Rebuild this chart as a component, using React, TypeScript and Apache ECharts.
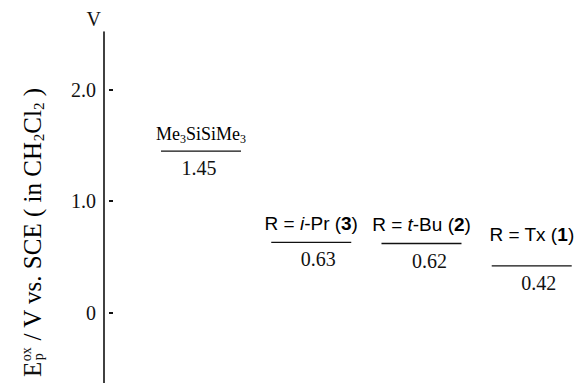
import React, { useEffect, useRef } from "react";
import * as echarts from "echarts";

// ---- data ----
const compoundLabels = [
  "{m|Me}{s|3}{m|SiSiMe}{s|3}",
  "{r|R = }{ri|i}{r|-Pr (}{rb|3}{r|)}",
  "{r|R = }{ri|t}{r|-Bu (}{rb|2}{r|)}",
  "{r|R = Tx (}{rb|1}{r|)}",
];
const potentials = [1.45, 0.63, 0.62, 0.42];
const yTickValues = [0, 1, 2];
const yTickLabels = ["0", "1.0", "2.0"];
const axisUnit = "V";

// ---- layout constants ----
const labelLift = [6, 8, 8, 20];
const valueDx = [-2, 7, 8, 7];
const halfLine = 40;

const SERIF = "'Liberation Serif', 'Times New Roman', serif";
const SANS = "'Liberation Sans', Arial, sans-serif";

function measure(text: string, font: string): number {
  const c = document.createElement("canvas");
  const ctx = c.getContext("2d")!;
  ctx.font = font;
  return ctx.measureText(text).width;
}

export default function App() {
  const ref = useRef<HTMLDivElement>(null);
  useEffect(() => {
    if (!ref.current) return;
    const chart = echarts.init(ref.current, undefined, { renderer: "svg" });

    const titleSize = 25;
    const supSize = 14;
    const wE = measure("E", `${titleSize}px ${SERIF}`);
    const wOx = measure("ox", `${supSize}px ${SERIF}`);

    const rich = {
      m: { fontFamily: SERIF, fontSize: 18, color: "#111", lineHeight: 22, verticalAlign: "middle" },
      s: { fontFamily: SERIF, fontSize: 12, color: "#111", lineHeight: 12, verticalAlign: "bottom" },
      r: { fontFamily: SANS, fontSize: 19, color: "#111", lineHeight: 22 },
      ri: { fontFamily: SANS, fontSize: 19, fontStyle: "italic", color: "#111", lineHeight: 22 },
      rb: { fontFamily: SANS, fontSize: 19, fontWeight: "bold", color: "#111", lineHeight: 22 },
    };

    const option: any = {
      animation: false,
      backgroundColor: "#fff",
      grid: { left: 104, right: 0, top: 32, bottom: 0, containLabel: false, outerBoundsMode: "none" },
      xAxis: { type: "value", min: -0.88, max: 3.447, show: false },
      yAxis: {
        type: "value",
        min: -0.633,
        max: 2.52,
        name: axisUnit,
        nameLocation: "end",
        nameGap: 3,
        nameTextStyle: {
          fontFamily: SERIF,
          fontSize: 20,
          color: "#111",
          align: "right",
          verticalAlign: "bottom",
          padding: [0, 3, 0, 0],
        },
        axisLine: { show: true, onZero: false, lineStyle: { color: "#111", width: 1.6 } },
        axisTick: {
          show: true,
          inside: true,
          length: 10,
          customValues: yTickValues,
          lineStyle: { color: "#111", width: 1.8, type: [0, 5, 4, 30] },
        },
        axisLabel: {
          customValues: yTickValues,
          margin: 8,
          fontFamily: SERIF,
          fontSize: 20,
          color: "#111",
          formatter: (v: number) => yTickLabels[yTickValues.indexOf(v)] ?? "",
        },
        splitLine: { show: false },
      },
      graphic: [
        {
          type: "group",
          x: 32,
          y: 377,
          rotation: Math.PI / 2,
          children: [
            {
              type: "text",
              x: 0,
              y: 0,
              style: { text: "E", fontFamily: SERIF, fontSize: titleSize, fill: "#111", align: "left", verticalAlign: "middle" },
            },
            {
              type: "text",
              x: wE + 0.5,
              y: -6,
              style: { text: "ox", fontFamily: SERIF, fontSize: supSize, fill: "#111", align: "left", verticalAlign: "middle" },
            },
            {
              type: "text",
              x: wE + 1.5,
              y: 6,
              style: { text: "p", fontFamily: SERIF, fontSize: supSize, fill: "#111", align: "left", verticalAlign: "middle" },
            },
            {
              type: "text",
              x: wE + wOx + 1,
              y: 0,
              style: {
                text: "{t| / V vs. SCE ( in CH}{u|2}{t|Cl}{u|2}{t| )}",
                align: "left",
                verticalAlign: "middle",
                rich: {
                  t: { fontFamily: SERIF, fontSize: titleSize, color: "#111", lineHeight: 28, verticalAlign: "middle" },
                  u: { fontFamily: SERIF, fontSize: 15, color: "#111", lineHeight: 15, verticalAlign: "bottom" },
                },
              },
            },
          ],
        },
      ],
      series: [
        {
          type: "custom",
          data: potentials.map((v, i) => [i, v]),
          renderItem: (params: any, api: any) => {
            const i = params.dataIndex;
            const p = api.coord([api.value(0), api.value(1)]);
            return {
              type: "group",
              children: [
                {
                  type: "line",
                  shape: { x1: p[0] - halfLine, y1: p[1], x2: p[0] + halfLine, y2: p[1] },
                  style: { stroke: "#111", lineWidth: 1.3 },
                },
                {
                  type: "text",
                  x: p[0],
                  y: p[1] - labelLift[i],
                  style: { text: compoundLabels[i], rich, align: "center", verticalAlign: "bottom" },
                },
                {
                  type: "text",
                  x: p[0] + valueDx[i],
                  y: p[1] + 7,
                  style: {
                    text: potentials[i].toFixed(2),
                    fontFamily: SERIF,
                    fontSize: 20,
                    fill: "#111",
                    align: "center",
                    verticalAlign: "top",
                  },
                },
              ],
            };
          },
        },
      ],
    };
    chart.setOption(option);
    return () => chart.dispose();
  }, []);
  return <div ref={ref} style={{ position: "fixed", left: 0, top: 0, width: 581, height: 383 }} />;
}
